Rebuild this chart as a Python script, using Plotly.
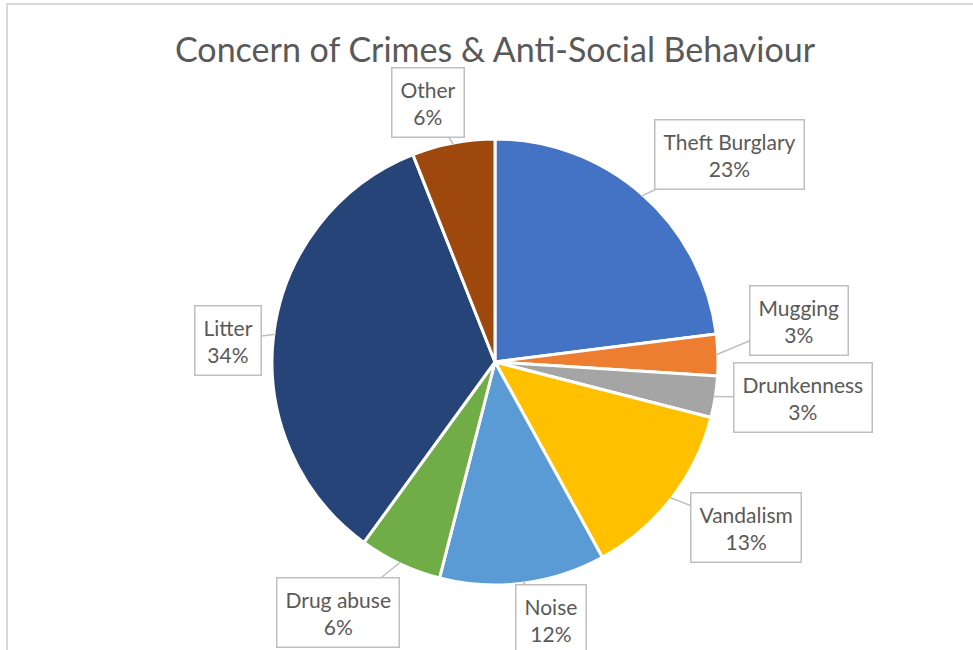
import math
import plotly.graph_objects as go

# ---- data ----
categories = ["Theft Burglary", "Mugging", "Drunkenness", "Vandalism",
              "Noise", "Drug abuse", "Litter", "Other"]
values = [23, 3, 3, 13, 12, 6, 34, 6]
title_text = "Concern of Crimes & Anti-Social Behaviour"

# ---- style ----
colors = ["#4472C4", "#ED7D31", "#A5A5A5", "#FFC000",
          "#5B9BD5", "#70AD47", "#264478", "#9E480E"]
W, H = 973, 650
CX, CY, R = 495, 362, 223           # pie centre / radius in pixels (layout)
# callout box centres (pixels) - label layout
label_pos = [(729, 154), (799, 320), (803, 397), (746, 527),
             (551, 619), (338, 612), (228, 340), (428, 102)]
font_family = "Lato"
text_color = "#595959"
border_color = "#BFBFBF"

fig = go.Figure()
fig.add_trace(go.Pie(
    labels=categories, values=values, sort=False, direction="clockwise",
    rotation=0, textinfo="none", hoverinfo="skip",
    marker=dict(colors=colors, line=dict(color="white", width=3)),
    domain=dict(x=[(CX - R) / W, (CX + R) / W],
                y=[(H - CY - R) / H, (H - CY + R) / H]),
    showlegend=False,
))

total = sum(values)
cum = 0
annotations = []
for cat, v, (bx, by) in zip(categories, values, label_pos):
    mid = (cum + v / 2) / total * 2 * math.pi
    cum += v
    tx = CX + R * 0.99 * math.sin(mid)
    ty = CY - R * 0.99 * math.cos(mid)
    pct = round(v / total * 100)
    annotations.append(dict(
        x=tx / W, y=1 - ty / H, xref="paper", yref="paper",
        text=f"{cat}<br>{pct}%", showarrow=True, arrowhead=0,
        arrowcolor=border_color, arrowwidth=1.5,
        ax=bx - tx, ay=by - ty,
        font=dict(family=font_family, size=21, color=text_color),
        bordercolor=border_color, borderwidth=1.5, borderpad=8,
        bgcolor="white", align="center",
    ))

annotations.append(dict(
    x=CX / W, y=1 - 48 / H, xref="paper", yref="paper",
    text=title_text, showarrow=False, xanchor="center", yanchor="middle",
    font=dict(family=font_family, size=34, color=text_color),
))

fig.update_layout(
    width=W, height=H, margin=dict(l=0, r=0, t=0, b=0),
    paper_bgcolor="white", plot_bgcolor="white",
    annotations=annotations,
    shapes=[
        dict(type="line", xref="paper", yref="paper",
             x0=6 / W, x1=1, y0=1 - 4 / H, y1=1 - 4 / H,
             line=dict(color="#D9D9D9", width=2)),
        dict(type="line", xref="paper", yref="paper",
             x0=7 / W, x1=7 / W, y0=0, y1=1 - 4 / H,
             line=dict(color="#D9D9D9", width=2)),
    ],
)

fig.write_html("out.html",
               config={"displayModeBar": False},
               post_script="document.body.style.margin='0px';")
